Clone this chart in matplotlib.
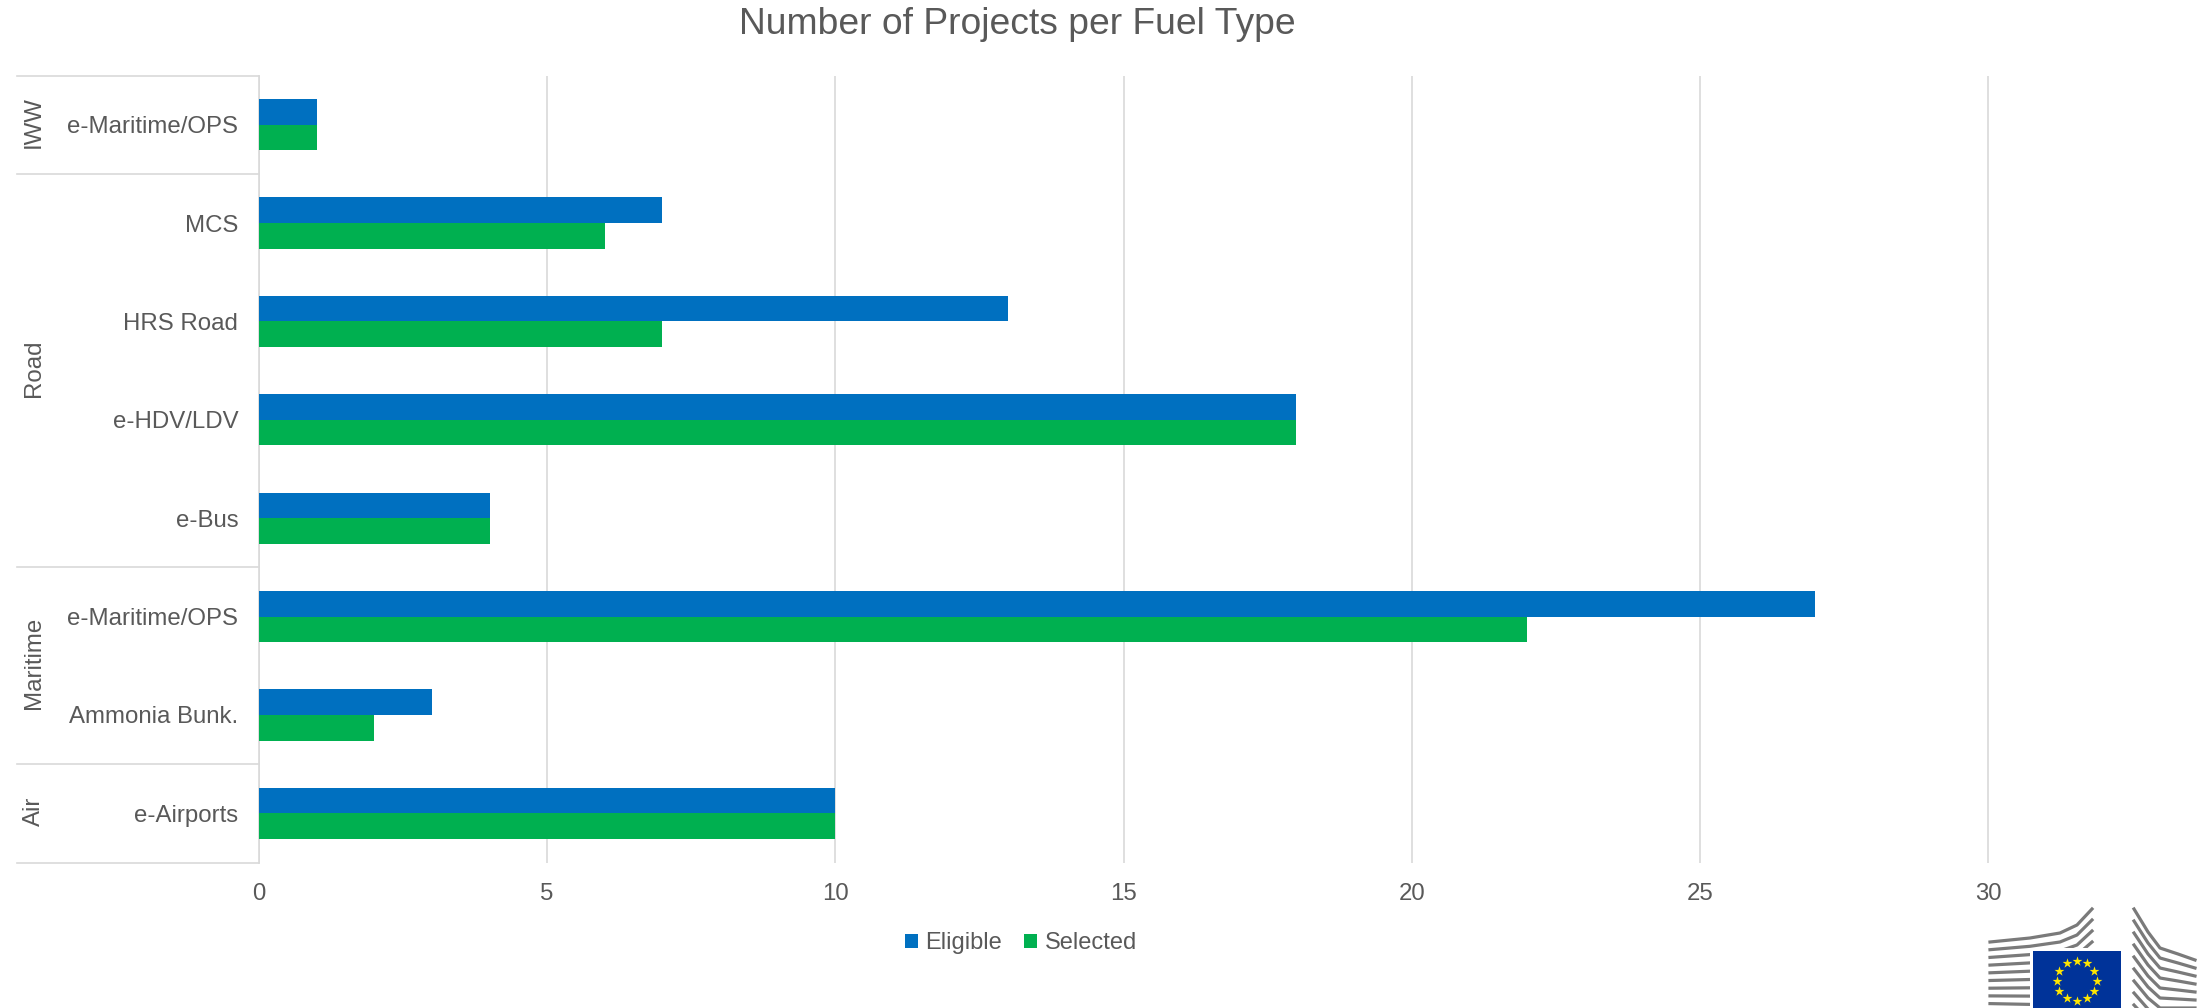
"""
Number of projects per fuel type, grouped by transport mode.
"""
import numpy as np
from matplotlib import pyplot as plt

categories = ['e-Maritime/OPS', 'MCS', 'HRS Road', 'e-HDV/LDV', 'e-Bus',
              'e-Maritime/OPS', 'Ammonia Bunk.', 'e-Airports']
eligible = [1, 7, 13, 18, 4, 27, 3, 10]
selected = [1, 6, 7, 18, 4, 22, 2, 10]
group_names = ['IWW', 'Road', 'Maritime', 'Air']
group_sizes = [1, 4, 2, 1]
x_ticks = [0, 5, 10, 15, 20, 25, 30]

BLUE = '#0070c0'
GREEN = '#00b050'
TEXT = '#595959'
GRID = '#d9d9d9'
W, H = 2212, 1008

plt.rcParams['font.family'] = ['Liberation Sans', 'DejaVu Sans']

f = plt.figure(figsize=(W / 100, H / 100), dpi=100)
ax_left, ax_right, ax_top, ax_bottom = 259, 2212, 75.5, 862.5
ax = f.add_axes([ax_left / W, 1 - ax_bottom / H,
                 (ax_right - ax_left) / W, (ax_bottom - ax_top) / H])

y = np.arange(len(categories))
bar_h = 0.26
ax.barh(y - bar_h / 2, eligible, bar_h, color=BLUE, label='Eligible', zorder=3)
ax.barh(y + bar_h / 2, selected, bar_h, color=GREEN, label='Selected', zorder=3)

unit = (1988 - ax_left) / 30
ax.set_xlim(0, (ax_right - ax_left) / unit)
ax.set_ylim(len(categories) - 0.5, -0.5)
ax.set_xticks(x_ticks)
ax.set_yticks(y, categories)
ax.tick_params(axis='both', length=0, labelsize=17.3, labelcolor=TEXT)
ax.tick_params(axis='y', pad=15)
ax.tick_params(axis='x', pad=15)
ax.xaxis.grid(True, color=GRID, lw=1.2, zorder=0)
for side in ['top', 'right', 'bottom']:
    ax.spines[side].set_visible(False)
ax.spines['left'].set_color(GRID)
ax.spines['left'].set_linewidth(1.2)

# group brackets left of the category labels
trans = ax.get_yaxis_transform()
line_x = (17 - ax_left) / (ax_right - ax_left)
label_x = (34 - ax_left) / (ax_right - ax_left)
edge = -0.5
ax.plot([line_x, 0], [edge, edge], transform=trans, color=GRID, lw=1.2, clip_on=False)
for name, size in zip(group_names, group_sizes):
    ax.text(label_x, edge + size / 2 - 0.025, name, transform=trans, rotation=90,
            ha='center', va='center', fontsize=17.3, color=TEXT)
    edge += size
    ax.plot([line_x, 0], [edge, edge], transform=trans, color=GRID, lw=1.2, clip_on=False)

f.text(1017 / W, 1 - 24 / H, 'Number of Projects per Fuel Type',
       ha='center', va='center', fontsize=26.8, color=TEXT)

ax.legend(loc='center', bbox_to_anchor=(1021 / W, 1 - 943 / H),
          bbox_transform=f.transFigure, ncol=2, frameon=False, fontsize=17,
          labelcolor=TEXT, handlelength=0.55, handleheight=0.55,
          handletextpad=0.3, columnspacing=0.95, borderpad=0)

# Commission logo, in pixel coordinates
logo = f.add_axes([0, 0, 1, 1], facecolor='none', zorder=5)
logo.set_xlim(0, W)
logo.set_ylim(H, 0)
logo.axis('off')
logo_grey = '#7a7a7a'
left_x = np.array([1990, 2030, 2060, 2077, 2092])
left_y = np.array([942, 938, 933, 925, 909])
left_gap = np.array([7.7, 8.3, 9, 10, 11])
for k in range(10):
    logo.plot(left_x, left_y + k * left_gap, color=logo_grey, lw=2.3)
right_x = np.array([2134, 2148, 2160, 2178, 2195])
right_y = np.array([909, 932, 948, 954, 960])
right_gap = np.array([12, 11, 10, 9, 8])
for k in range(9):
    logo.plot(right_x, right_y + k * right_gap, color=logo_grey, lw=2.3)
logo.fill_between([2030, 2121], 948, 1008, color='white', lw=0, zorder=3)
logo.fill_between([2033, 2121], 951, 1008, color='#003399', lw=0, zorder=4)
angles = np.deg2rad(np.arange(0, 360, 30))
logo.scatter(2076.7 + 20 * np.cos(angles), 980.7 + 20 * np.sin(angles),
             marker='*', s=55, color='#ffe600', lw=0, zorder=5)

f.savefig('out.png', dpi=100)
plt.close(f)
